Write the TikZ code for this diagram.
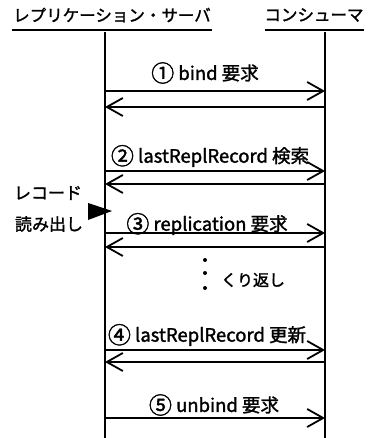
\documentclass[tikz,border=0pt]{standalone}
\usepackage{fontspec}
\setmainfont{Noto Sans CJK JP}[FakeBold=1.6]
\usetikzlibrary{arrows.meta}
\newcommand{\circnum}[1]{\raisebox{-1.8pt}{\fontsize{23}{23}\selectfont #1}}
\begin{document}
\begin{tikzpicture}[x=1pt,y=-1pt,
  lbl/.style={font=\fontsize{18.5}{20}\selectfont, inner sep=0pt},
  note/.style={font=\fontsize{17}{19}\selectfont, inner sep=0pt},
  life/.style={line width=2pt},
  msg/.style={line width=1.6pt, -{Straight Barb[length=16pt,width=18pt,line width=1.8pt]}},
  hdr/.style={font=\fontsize{16.5}{18}\selectfont, inner sep=0pt}]
\useasboundingbox (0,0) rectangle (369,438);
% headers
\node[hdr] (hs) at (112,15) {レプリケーション・サーバ};
\node[hdr] (hc) at (314,15) {コンシューマ};
\draw[line width=1.2pt] (12,30) -- (212,30);
\draw[line width=1.2pt] (265,30) -- (364,30);
% lifelines
\coordinate (Ltop) at (105,32);
\coordinate (Lbot) at (105,438);
\coordinate (Rtop) at (325,32);
\coordinate (Rbot) at (325,438);
\draw[life] (Ltop) -- (Lbot);
\draw[life] (Rtop) -- (Rbot);
% message endpoints
\foreach \n/\y in {a1/91,b1/107,a2/171,b2/184,a3/233,b3/247,a4/350,b4/362,a5/418}{
  \coordinate (L\n) at (105,\y);
  \coordinate (R\n) at (325,\y);
}
\draw[msg] (La1) -- (Ra1);
\draw[msg] (Rb1) -- (Lb1);
\draw[msg] (La2) -- (Ra2);
\draw[msg] (Rb2) -- (Lb2);
\draw[msg] (La3) -- (Ra3);
\draw[msg] (Rb3) -- (Lb3);
\draw[msg] (La4) -- (Ra4);
\draw[msg] (Rb4) -- (Lb4);
\draw[msg] (La5) -- (Ra5);
% labels
\node[lbl] (m1) at (205,73) {\circnum{①} bind 要求};
\node[lbl] (m2) at (210,156) {\circnum{②} lastReplRecord 検索};
\node[lbl] (m3) at (207,224) {\circnum{③} replication 要求};
\node[lbl] (m4) at (207,335) {\circnum{④} lastReplRecord 更新};
\node[lbl] (m5) at (214,405) {\circnum{⑤} unbind 要求};
% left notes
\node[note] (rec) at (48,193) {レコード};
\node[note] (read) at (49,224) {読み出し};
\fill (88,203) -- (88,220) -- (112,211) -- cycle;
% repeat
\fill (205,260) circle (2pt);
\fill (205,273) circle (2pt);
\fill (205,288) circle (2pt);
\node[note, font=\fontsize{16}{18}\selectfont] (rep) at (253,280) {くり返し};
\end{tikzpicture}
\end{document}
